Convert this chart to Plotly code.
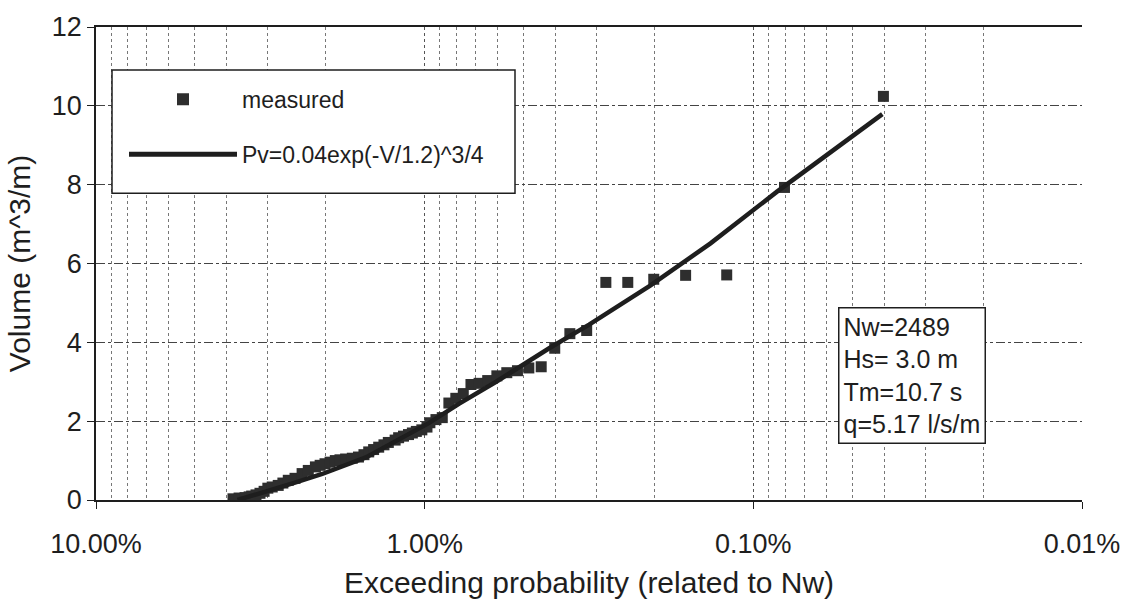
import plotly.graph_objects as go

# ---- data ----
# measured points: exceeding probability in %, volume in m^3/m
meas_p = [3.83, 3.67, 3.52, 3.42, 3.36, 3.26, 3.17, 3.08, 3.00, 2.91, 2.79, 2.70, 2.60, 2.48,
          2.36, 2.26, 2.15, 2.08, 2.01, 1.94, 1.87, 1.81, 1.74, 1.66, 1.59, 1.53, 1.48, 1.43,
          1.38, 1.33, 1.29, 1.23, 1.20, 1.16, 1.12, 1.09, 1.06, 1.02, 0.984, 0.964, 0.924,
          0.884, 0.844, 0.804, 0.763, 0.723, 0.683, 0.643, 0.603, 0.5625, 0.522, 0.482, 0.442,
          0.402, 0.3616, 0.3214, 0.281, 0.241, 0.2009, 0.1607, 0.1205, 0.0804, 0.0402]
meas_v = [0.03, 0.05, 0.06, 0.08, 0.10, 0.13, 0.17, 0.22, 0.30, 0.33, 0.37, 0.43, 0.50, 0.55,
          0.67, 0.75, 0.84, 0.88, 0.92, 0.96, 1.00, 1.02, 1.04, 1.06, 1.09, 1.15, 1.22, 1.28,
          1.34, 1.40, 1.46, 1.52, 1.58, 1.62, 1.66, 1.70, 1.74, 1.78, 1.85, 1.96, 2.04,
          2.09, 2.46, 2.58, 2.70, 2.93, 2.96, 3.03, 3.15, 3.23, 3.28, 3.35, 3.38,
          3.85, 4.22, 4.30, 5.52, 5.52, 5.60, 5.70, 5.71, 7.93, 10.24]

# fitted curve Pv=0.04exp(-V/1.2)^3/4
fit_p = [3.71, 3.00, 2.48, 2.05, 1.51, 0.972, 0.787, 0.606, 0.418, 0.316, 0.206, 0.135, 0.0845, 0.0405]
fit_v = [0.00, 0.22, 0.44, 0.66, 1.08, 1.95, 2.44, 3.00, 3.85, 4.45, 5.44, 6.51, 7.83, 9.79]

x_tickvals = [10, 1, 0.1, 0.01]
x_ticktext = ["10.00%", "1.00%", "0.10%", "0.01%"]
x_minor = [m * d for d in (1, 0.1, 0.01) for m in range(2, 10)]
y_tickvals = [0, 2, 4, 6, 8, 10, 12]

info_text = "Nw=2489<br>Hs= 3.0 m<br>Tm=10.7 s<br>q=5.17 l/s/m"

FONT = "Liberation Sans, Arial, sans-serif"
INK = "#1e1e1e"

fig = go.Figure()
fig.add_trace(go.Scatter(
    x=meas_p, y=meas_v, mode="markers", name="measured",
    marker=dict(symbol="square", size=11, color="#2e2e2e", line=dict(width=0)),
    legendgroup="a"))
fig.add_trace(go.Scatter(
    x=fit_p, y=fit_v, mode="lines", name="Pv=0.04exp(-V/1.2)^3/4",
    line=dict(color=INK, width=4.5), legendgroup="b"))

L, R, T, B = 96, 51, 18, 104
W, H = 1133, 606
pw, ph = W - L - R, H - T - B

def px2paper(x, y):
    return (x - L) / pw, (H - B - y) / ph

lx0, ly0 = px2paper(112, 62)
lx1, ly1 = px2paper(515, 188)

fig.update_layout(
    width=W, height=H,
    margin=dict(l=L, r=R, t=T, b=B),
    paper_bgcolor="white", plot_bgcolor="white",
    font=dict(family=FONT, color=INK, size=26),
    showlegend=True,
    legend=dict(
        x=px2paper(124, 0)[0], y=px2paper(0, 70)[1], xanchor="left", yanchor="top",
        bgcolor="rgba(0,0,0,0)", borderwidth=0, itemwidth=108,
        font=dict(size=23, family=FONT, color=INK), tracegroupgap=22,
        itemsizing="constant"),
    shapes=[dict(type="rect", xref="paper", yref="paper",
                 x0=lx0, x1=lx1, y0=ly1, y1=ly0,
                 line=dict(color=INK, width=1.5), fillcolor="white", layer="above")],
    annotations=[dict(
        text=info_text, xref="paper", yref="paper",
        x=px2paper(838, 0)[0], y=px2paper(0, 305)[1], xanchor="left", yanchor="top",
        align="left", showarrow=False, bgcolor="white", bordercolor=INK,
        borderwidth=1.5, borderpad=4, font=dict(size=25, family=FONT, color=INK))],
)

fig.update_xaxes(
    type="log", range=[1, -2], autorange=False,
    tickvals=x_tickvals, ticktext=x_ticktext,
    ticks="outside", ticklen=7, tickcolor=INK, tickfont=dict(size=27),
    ticklabelstandoff=12,
    showline=True, linecolor=INK, linewidth=1.5, mirror=True,
    showgrid=True, gridcolor="#555555", griddash="dot", gridwidth=1,
    minor=dict(tickvals=x_minor, showgrid=True, gridcolor="#777777", griddash="dot",
               gridwidth=1, ticks=""),
    title=dict(text="Exceeding probability (related to Nw)", font=dict(size=30), standoff=14),
    zeroline=False)

fig.update_yaxes(
    range=[0, 12], autorange=False, tickvals=y_tickvals,
    ticks="outside", ticklen=7, tickcolor=INK, tickfont=dict(size=27),
    showline=True, linecolor=INK, linewidth=1.5, mirror=False,
    showgrid=True, gridcolor="#444444", griddash="dashdot", gridwidth=1,
    title=dict(text="Volume (m^3/m)", font=dict(size=30), standoff=12),
    zeroline=False)

fig.write_html("out.html")
